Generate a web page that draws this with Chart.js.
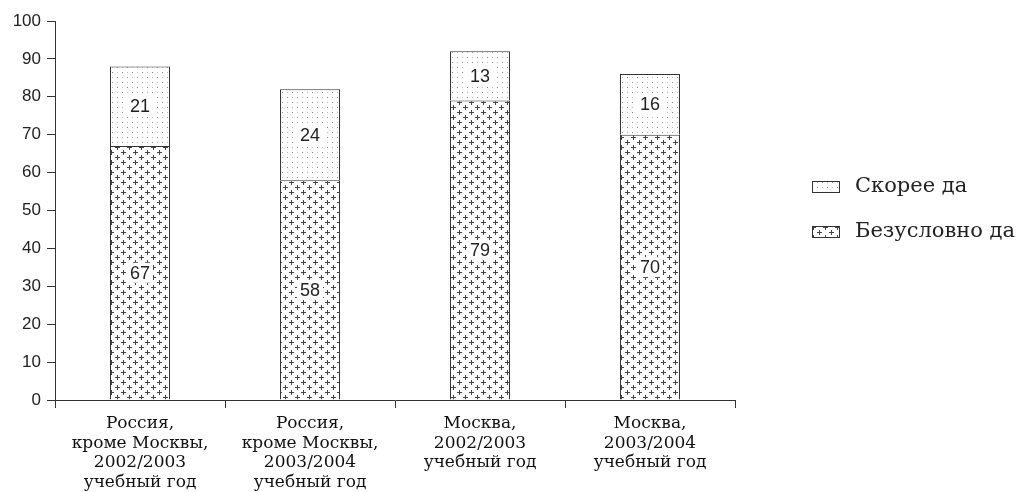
<!DOCTYPE html>
<html>
<head>
<meta charset="utf-8">
<script src="https://cdn.jsdelivr.net/npm/chart.js@4"></script>
<style>
  html, body { margin: 0; padding: 0; background: #fff; }
  #wrap { width: 1016px; height: 492px; }
</style>
</head>
<body>
<div id="wrap"><canvas id="myChart" width="1016" height="492"></canvas></div>
<script>
"use strict";

// categories (multi-line labels)
const categories = [
    ['Россия,', 'кроме Москвы,', '2002/2003', 'учебный год'],
    ['Россия,', 'кроме Москвы,', '2003/2004', 'учебный год'],
    ['Москва,', '2002/2003', 'учебный год'],
    ['Москва,', '2003/2004', 'учебный год']
];
const seriesNames = ['Безусловно да', 'Скорее да'];
const definitelyYes = [67, 58, 79, 70];
const ratherYes = [21, 24, 13, 16];
const yTicks = [0, 10, 20, 30, 40, 50, 60, 70, 80, 90, 100];

// hatch patterns
function plusPattern() {
    const c = document.createElement('canvas');
    c.width = 12; c.height = 10;
    const g = c.getContext('2d');
    g.fillStyle = '#fff';
    g.fillRect(0, 0, 12, 10);
    g.fillStyle = '#444';
    [[3, 2], [9, 7]].forEach(function (p) {
        g.fillRect(p[0] - 2, p[1], 5, 1);
        g.fillRect(p[0], p[1] - 2, 1, 5);
    });
    return g.createPattern(c, 'repeat');
}
function dotPattern() {
    const c = document.createElement('canvas');
    c.width = 10; c.height = 10;
    const g = c.getContext('2d');
    g.fillStyle = '#fff';
    g.fillRect(0, 0, 10, 10);
    g.fillStyle = '#888';
    g.fillRect(2, 2, 1, 1);
    g.fillRect(7, 7, 1, 1);
    g.fillStyle = '#bbb';
    g.fillRect(7, 2, 1, 1);
    g.fillRect(2, 7, 1, 1);
    return g.createPattern(c, 'repeat');
}

const plusFill = plusPattern();
const dotFill = dotPattern();

// value labels in the middle of each segment, on a white box
const segmentLabels = {
    id: 'segmentLabels',
    afterDatasetsDraw(chart) {
        const ctx = chart.ctx;
        ctx.save();
        ctx.font = '18px "Liberation Sans", Arial, sans-serif';
        ctx.textAlign = 'center';
        ctx.textBaseline = 'middle';
        chart.data.datasets.forEach(function (ds, i) {
            chart.getDatasetMeta(i).data.forEach(function (bar, j) {
                const txt = String(ds.data[j]);
                const y = (bar.y + bar.base) / 2;
                const w = ctx.measureText(txt).width;
                ctx.fillStyle = '#fff';
                ctx.fillRect(bar.x - w / 2 - 3, y - 10, w + 6, 20);
                ctx.fillStyle = '#222';
                ctx.fillText(txt, bar.x, y + 1);
            });
        });
        ctx.restore();
    }
};

// legend to the right of the plot
const sideLegend = {
    id: 'sideLegend',
    afterDraw(chart) {
        const ctx = chart.ctx;
        const items = [
            { label: seriesNames[1], fill: dotFill, y: 187 },
            { label: seriesNames[0], fill: plusFill, y: 232 }
        ];
        ctx.save();
        ctx.font = '21px "DejaVu Serif", serif';
        ctx.textBaseline = 'middle';
        items.forEach(function (it) {
            ctx.fillStyle = it.fill;
            ctx.fillRect(812, it.y - 6, 28, 12);
            ctx.strokeStyle = '#333';
            ctx.lineWidth = 1;
            ctx.strokeRect(812.5, it.y - 5.5, 27, 11);
            ctx.fillStyle = '#222';
            ctx.fillText(it.label, 855, it.y);
        });
        ctx.restore();
    }
};

const ctx = document.getElementById('myChart').getContext('2d');
const chart = new Chart(ctx, {
    type: 'bar',
    data: {
        labels: categories,
        datasets: [
            {
                label: seriesNames[0],
                data: definitelyYes,
                backgroundColor: plusFill,
                borderColor: '#333',
                borderWidth: 1,
                categoryPercentage: 1,
                barPercentage: 0.353
            },
            {
                label: seriesNames[1],
                data: ratherYes,
                backgroundColor: dotFill,
                borderColor: '#333',
                borderWidth: 1,
                categoryPercentage: 1,
                barPercentage: 0.353
            }
        ]
    },
    options: {
        responsive: false,
        animation: false,
        layout: { padding: { left: 0, right: 281, top: 21, bottom: 0 } },
        plugins: {
            legend: { display: false },
            tooltip: { enabled: false }
        },
        scales: {
            x: {
                stacked: true,
                offset: true,
                afterFit: function (axis) { axis.height = 92; },
                grid: { drawOnChartArea: false, drawTicks: true, tickLength: 8, color: '#333', offset: true },
                border: { color: '#333', width: 1 },
                ticks: {
                    color: '#111',
                    maxRotation: 0,
                    autoSkip: false,
                    padding: 6,
                    font: { family: '"DejaVu Serif", serif', size: 17, lineHeight: 1.15 }
                }
            },
            y: {
                stacked: true,
                min: 0,
                max: 100,
                afterBuildTicks: function (axis) {
                    axis.ticks = yTicks.map(function (v) { return { value: v }; });
                },
                afterFit: function (axis) { axis.width = 55; },
                grid: { drawOnChartArea: false, drawTicks: true, tickLength: 8, color: '#333' },
                border: { color: '#333', width: 1 },
                ticks: {
                    color: '#222',
                    padding: 6,
                    font: { family: '"Liberation Sans", Arial, sans-serif', size: 17 }
                }
            }
        }
    },
    plugins: [segmentLabels, sideLegend]
});
</script>
</body>
</html>
